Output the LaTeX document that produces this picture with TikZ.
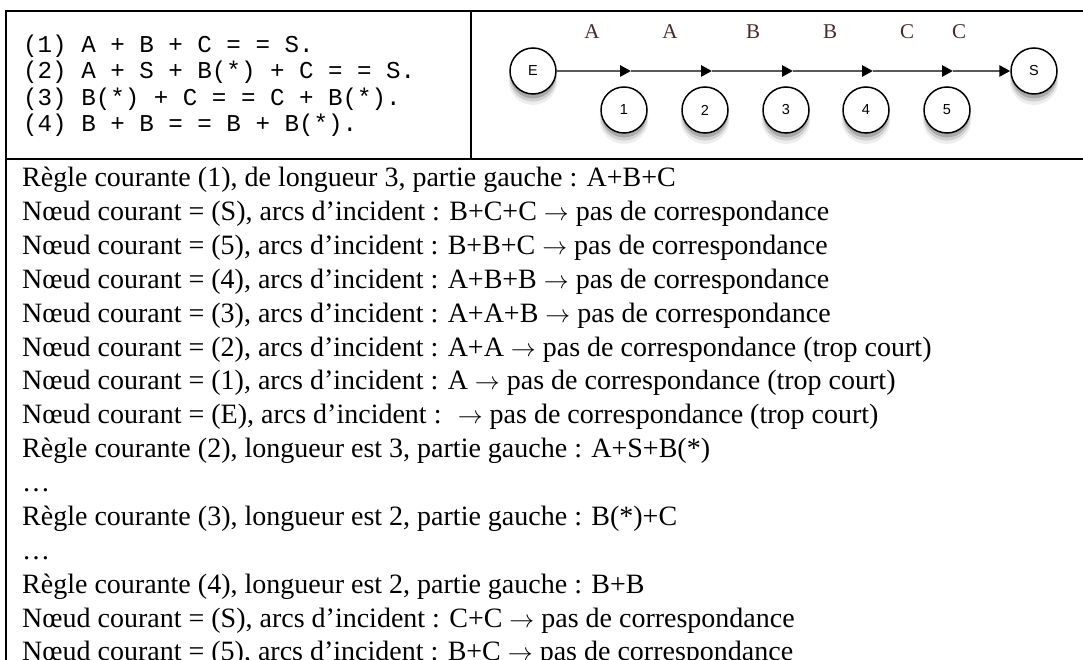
\documentclass[tikz,border=0pt]{standalone}
\usepackage{fontspec}
\setmainfont{Liberation Serif}
\newfontfamily\monof{Liberation Mono}
\newfontfamily\sansf{Liberation Sans}
\usetikzlibrary{arrows.meta,shadows}
\definecolor{labelc}{RGB}{72,42,40}
\definecolor{arcc}{RGB}{88,88,88}
\newcommand\myarrow{{\fontsize{27}{27}\selectfont$\rightarrow$}}
\begin{document}
\begin{tikzpicture}[x=1pt,y=-1pt,
  frame/.style={line width=2pt},
  mono/.style={anchor=base west, inner sep=0pt, font=\monof\fontsize{24.2}{27}\selectfont},
  body/.style={anchor=base west, inner sep=0pt, font=\fontsize{28}{34}\selectfont},
  state/.style={circle, draw=black, line width=1.5pt, fill=white, minimum size=46pt, inner sep=0pt,
    font=\sansf\fontsize{14.5}{14.5}\selectfont,
    general shadow={shadow yshift=-9pt, shadow scale=1.06, fill=black, opacity=0.07},
    general shadow={shadow yshift=-7pt, shadow scale=1.02, fill=black, opacity=0.12},
    general shadow={shadow yshift=-5pt, shadow scale=0.98, fill=black, opacity=0.18}},
  lbl/.style={anchor=base, inner sep=0pt, font=\fontsize{21}{21}\selectfont, text=labelc},
  arc/.style={draw=arcc, line width=2.6pt, -{Triangle[length=11pt,width=11pt,color=black]}}
]
\useasboundingbox (0,0) rectangle (1083,660);
\fill[white] (0,0) rectangle (1083,660);
% table frame
\draw[frame] (1083,11) -- (6,11) -- (6,661);
\draw[frame] (471,11) -- (471,159);
\draw[frame] (6,159) -- (1083,159);
% rules
\node[mono] (r1) at (23,52.5) {(1) A + B + C = = S.};
\node[mono] (r2) at (23,79) {(2) A + S + B(*) + C = = S.};
\node[mono] (r3) at (23,105.5) {(3) B(*) + C = = C + B(*).};
\node[mono] (r4) at (23,132) {(4) B + B = = B + B(*).};
% graph
\node[state] (E) at (533,71) {E};
\node[state] (S) at (1034,71) {S};
\node[state] (n1) at (624,110) {1};
\node[state] (n2) at (705,110) {2};
\node[state] (n3) at (786,110) {3};
\node[state] (n4) at (866,110) {4};
\node[state] (n5) at (947,110) {5};
\coordinate (t1) at (631,71);
\coordinate (t2) at (712,71);
\coordinate (t3) at (793,71);
\coordinate (t4) at (873,71);
\coordinate (t5) at (953,71);
\draw[arc] (E) -- (t1);
\draw[arc] (t1) -- (t2);
\draw[arc] (t2) -- (t3);
\draw[arc] (t3) -- (t4);
\draw[arc] (t4) -- (t5);
\draw[arc] (t5) -- (S);
\node[lbl] (a1) at (592,39) {A};
\node[lbl] (a2) at (670,39) {A};
\node[lbl] (a3) at (753,39) {B};
\node[lbl] (a4) at (830,39) {B};
\node[lbl] (a5) at (907,39) {C};
\node[lbl] (a6) at (959,39) {C};
% trace
\node[body] (l1) at (22,186.5) {Règle courante (1), de longueur 3, partie gauche : A+B+C};
\node[body] (l2) at (22,220.4) {Nœud courant = (S), arcs d’incident : B+C+C \myarrow{} pas de correspondance};
\node[body] (l3) at (22,254.3) {Nœud courant = (5), arcs d’incident : B+B+C \myarrow{} pas de correspondance};
\node[body] (l4) at (22,288.2) {Nœud courant = (4), arcs d’incident : A+B+B \myarrow{} pas de correspondance};
\node[body] (l5) at (22,322.1) {Nœud courant = (3), arcs d’incident : A+A+B \myarrow{} pas de correspondance};
\node[body] (l6) at (22,356.0) {Nœud courant = (2), arcs d’incident : A+A \myarrow{} pas de correspondance (trop court)};
\node[body] (l7) at (22,389.9) {Nœud courant = (1), arcs d’incident : A \myarrow{} pas de correspondance (trop court)};
\node[body] (l8) at (22,423.8) {Nœud courant = (E), arcs d’incident : \ \myarrow{} pas de correspondance (trop court)};
\node[body] (l9) at (22,457.7) {Règle courante (2), longueur est 3, partie gauche : A+S+B(*)};
\node[body] (l10) at (22,491.6) {…};
\node[body] (l11) at (22,525.5) {Règle courante (3), longueur est 2, partie gauche : B(*)+C};
\node[body] (l12) at (22,559.4) {…};
\node[body] (l13) at (22,593.3) {Règle courante (4), longueur est 2, partie gauche : B+B};
\node[body] (l14) at (22,627.2) {Nœud courant = (S), arcs d’incident : C+C \myarrow{} pas de correspondance};
\node[body] (l15) at (22,660.0) {Nœud courant = (5), arcs d’incident : B+C \myarrow{} pas de correspondance};
\end{tikzpicture}
\end{document}
